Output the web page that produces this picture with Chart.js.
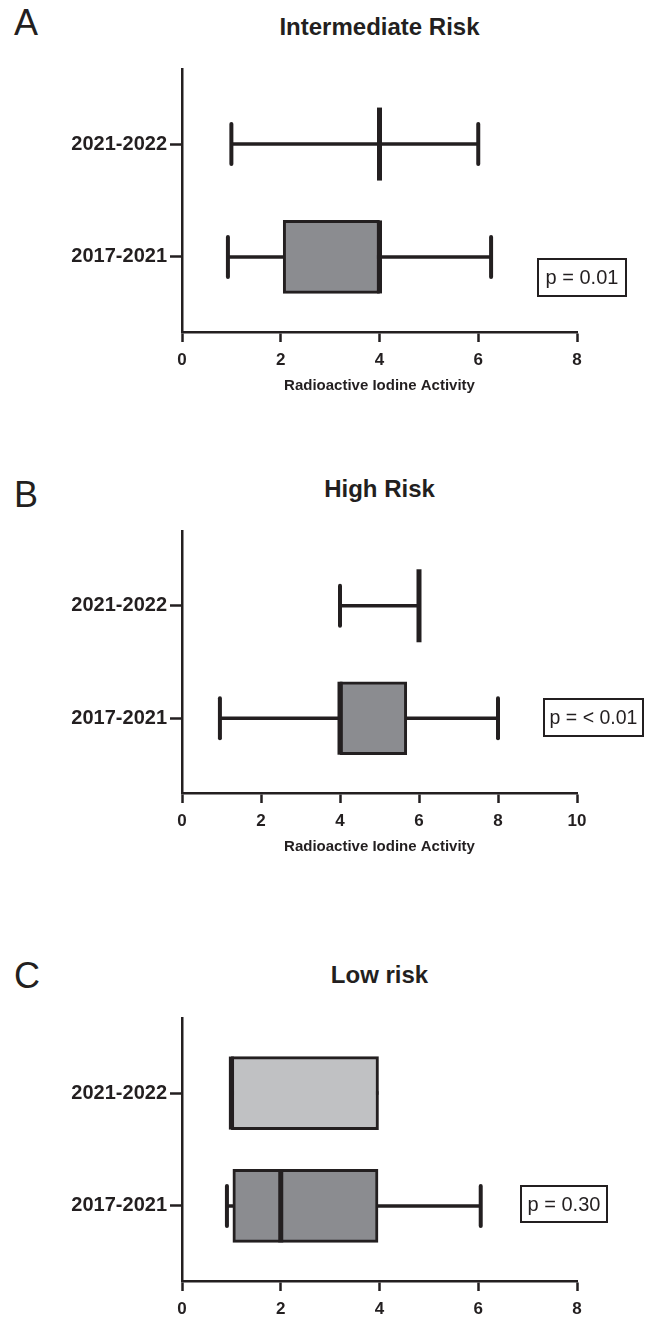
<!DOCTYPE html>
<html>
<head>
<meta charset="utf-8">
<script src="https://cdn.jsdelivr.net/npm/chart.js@4/dist/chart.umd.min.js"></script>
<style>
  body { margin: 0; background: #fff; font-family: "Liberation Sans", Arial, sans-serif; color: #231f20; }
  .page { position: relative; width: 653px; height: 1318px; overflow: hidden; }
  .panel { position: absolute; left: 0; }
  .letter { position: absolute; left: 14px; font-size: 36px; line-height: 36px; font-weight: normal; }
  .title { position: absolute; left: 182px; width: 395px; text-align: center; font-size: 24px; line-height: 24px; font-weight: bold; }
  .pbox { position: absolute; border: 2px solid #231f20; box-sizing: border-box; text-align: center; font-size: 20px; white-space: nowrap; }
</style>
</head>
<body>
<div class="page">
  <div class="letter" style="top:5px">A</div>
  <div class="title" style="top:15px">Intermediate Risk</div>
  <div class="panel" style="top:0px"><canvas id="chartA" width="653" height="400"></canvas></div>
  <div class="pbox" style="left:537px;top:258px;width:90px;height:39px;line-height:35px">p = 0.01</div>

  <div class="letter" style="top:477px">B</div>
  <div class="title" style="top:477px">High Risk</div>
  <div class="panel" style="top:462px"><canvas id="chartB" width="653" height="399"></canvas></div>
  <div class="pbox" style="left:543px;top:698px;width:101px;height:39px;line-height:35px;font-size:19.5px">p = &lt; 0.01</div>

  <div class="letter" style="top:958px">C</div>
  <div class="title" style="top:963px">Low risk</div>
  <div class="panel" style="top:949px"><canvas id="chartC" width="653" height="369"></canvas></div>
  <div class="pbox" style="left:520px;top:1185px;width:88px;height:38px;line-height:34px">p = 0.30</div>
</div>

<script>
//Categories (index 0 = bottom row, index 1 = top row)
var categories = ['2017-2021', '2021-2022'];

//Intermediate risk box plot stats
var interMin = [0.93, 1];
var interQ1 = [2.05, 4];
var interMedian = [4, 4];
var interQ3 = [4, 4];
var interMax = [6.26, 6];

//High risk box plot stats
var highMin = [0.96, 4];
var highQ1 = [4, 6];
var highMedian = [4, 6];
var highQ3 = [5.69, 6];
var highMax = [8, 6];

//Low risk box plot stats
var lowMin = [0.91, 1];
var lowQ1 = [1.03, 1];
var lowMedian = [2, 1];
var lowQ3 = [3.97, 3.98];
var lowMax = [6.05, 3.98];

//X axis ranges
var interXMax = 8;
var highXMax = 10;
var lowXMax = 8;
var xStep = 2;

var axisTitle = 'Radioactive Iodine Activity';

//Styles
var ink = '#231f20';
var darkFill = '#8b8c90';
var lightFill = '#c0c1c3';
var boxHeight = 73;
var capHeight = 40;

function line(ctx, x1, y1, x2, y2, w, cap) {
  ctx.save();
  ctx.strokeStyle = ink;
  ctx.lineWidth = w;
  ctx.lineCap = cap;
  ctx.beginPath();
  ctx.moveTo(x1, y1);
  ctx.lineTo(x2, y2);
  ctx.stroke();
  ctx.restore();
}

//whiskers, caps and medians drawn from the stats through the chart scales
function boxPlugin(stats) {
  return {
    id: 'boxWhiskers',
    beforeDatasetsDraw: function (chart) {
      var ctx = chart.ctx;
      var xs = chart.scales.x, ys = chart.scales.y;
      for (var i = 0; i < categories.length; i++) {
        var y = ys.getPixelForValue(i);
        if (stats.max[i] > stats.min[i]) {
          line(ctx, xs.getPixelForValue(stats.min[i]), y, xs.getPixelForValue(stats.max[i]), y, 3.5, 'butt');
        }
      }
    },
    afterDatasetsDraw: function (chart) {
      var ctx = chart.ctx;
      var xs = chart.scales.x, ys = chart.scales.y;
      for (var i = 0; i < categories.length; i++) {
        var y = ys.getPixelForValue(i);
        if (stats.min[i] < stats.q1[i]) {
          var x1 = xs.getPixelForValue(stats.min[i]);
          line(ctx, x1, y - capHeight / 2, x1, y + capHeight / 2, 4, 'round');
        }
        if (stats.max[i] > stats.q3[i]) {
          var x2 = xs.getPixelForValue(stats.max[i]);
          line(ctx, x2, y - capHeight / 2, x2, y + capHeight / 2, 4, 'round');
        }
        var xm = xs.getPixelForValue(stats.median[i]);
        line(ctx, xm, y - boxHeight / 2, xm, y + boxHeight / 2, 5, 'butt');
      }
    }
  };
}

function makeChart(id, stats, xMax, fills, showTitle, xHeight) {
  var boxes = [];
  var colors = [];
  for (var i = 0; i < categories.length; i++) {
    if (stats.q3[i] > stats.q1[i]) {
      boxes.push({ y: i, x: [stats.q1[i], stats.q3[i]] });
      colors.push(fills[i]);
    }
  }

  var ctx = document.getElementById(id).getContext('2d');
  return new Chart(ctx, {
    type: 'bar',
    data: {
      datasets: [{
        data: boxes,
        backgroundColor: colors,
        borderColor: ink,
        borderWidth: 3,
        borderSkipped: false,
        barThickness: boxHeight
      }]
    },
    options: {
      indexAxis: 'y',
      responsive: false,
      animation: false,
      layout: { padding: { top: 69, left: 0, right: 76, bottom: 0 } },
      plugins: { legend: { display: false }, tooltip: { enabled: false } },
      scales: {
        x: {
          type: 'linear',
          min: 0,
          max: xMax,
          ticks: {
            stepSize: xStep,
            padding: 8,
            color: ink,
            font: { family: 'Liberation Sans', size: 17, weight: 'bold' }
          },
          grid: { drawOnChartArea: false, drawTicks: true, tickLength: 10, tickWidth: 2.5, tickColor: ink },
          border: { display: true, color: ink, width: 2.5 },
          title: {
            display: showTitle,
            text: axisTitle,
            color: ink,
            padding: { top: 0, bottom: 5 },
            font: { family: 'Liberation Sans', size: 15, weight: 'bold' }
          },
          afterFit: function (scale) { scale.height = xHeight; }
        },
        y: {
          type: 'linear',
          offset: false,
          min: -0.665,
          max: 1.665,
          afterBuildTicks: function (scale) {
            scale.ticks = categories.map(function (c, i) { return { value: i }; });
          },
          ticks: {
            autoSkip: false,
            padding: 3,
            color: ink,
            font: { family: 'Liberation Sans', size: 20, weight: 'bold' },
            callback: function (v) { return categories[v]; }
          },
          grid: { offset: false, drawOnChartArea: false, drawTicks: true, tickLength: 12, tickWidth: 2.5, tickColor: ink },
          border: { display: true, color: ink, width: 2.5 },
          afterFit: function (scale) { scale.width = 182; }
        }
      }
    },
    plugins: [boxPlugin(stats)]
  });
}

makeChart('chartA',
  { min: interMin, q1: interQ1, median: interMedian, q3: interQ3, max: interMax },
  interXMax, [darkFill, darkFill], true, 68);

makeChart('chartB',
  { min: highMin, q1: highQ1, median: highMedian, q3: highQ3, max: highMax },
  highXMax, [darkFill, darkFill], true, 68);

makeChart('chartC',
  { min: lowMin, q1: lowQ1, median: lowMedian, q3: lowQ3, max: lowMax },
  lowXMax, [darkFill, lightFill], false, 37);
</script>
</body>
</html>
